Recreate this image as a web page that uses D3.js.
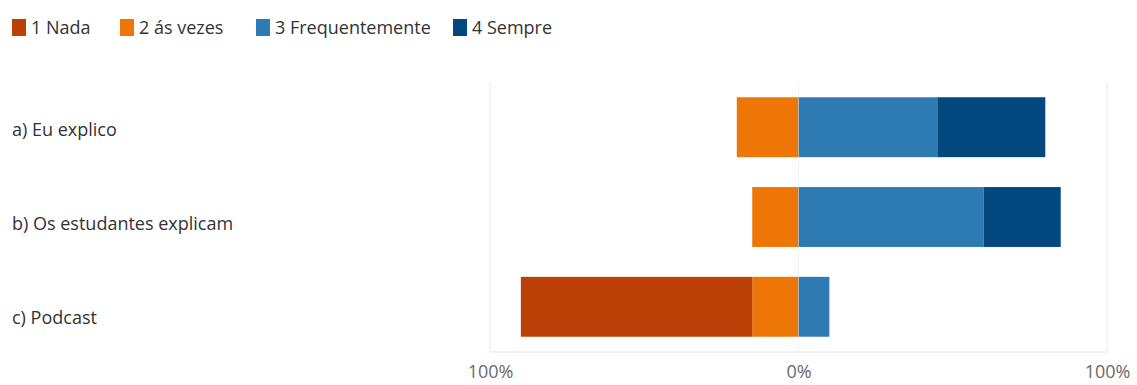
<!DOCTYPE html>
<html>
<head>
<meta charset="utf-8">
<script src="https://cdn.jsdelivr.net/npm/d3@7"></script>
<style>
  html, body { margin: 0; padding: 0; background: #fff; }
  svg { display: block; }
</style>
</head>
<body>
<svg id="chart" width="1137" height="385"></svg>
<script>
// Survey items and the share of answers per level (percent)
const categories = ["a) Eu explico", "b) Os estudantes explicam", "c) Podcast"];
const levels = ["1 Nada", "2 ás vezes", "3 Frequentemente", "4 Sempre"];
const nada = [0, 0, 75];
const asVezes = [20, 15, 15];
const frequentemente = [45, 60, 10];
const sempre = [35, 25, 0];
const tickValues = [-100, 0, 100];
const tickLabels = ["100%", "0%", "100%"];

const colors = ["#BA4006", "#EE7606", "#2E7BB4", "#03477F"];
const font = "'Open Sans', 'Noto Sans', sans-serif";

const svg = d3.select("#chart");
const plot = { left: 490, right: 1107, top: 82, bottom: 352 };

const x = d3.scaleLinear().domain([-100, 100]).range([plot.left, plot.right]);
const y = d3.scaleBand().domain(categories).range([plot.top, plot.bottom])
  .paddingInner(0.333).paddingOuter(0.17);
// Row labels sit on their own slightly wider spacing
const yLabel = d3.scalePoint().domain(categories).range([130, 318]);

// Frame and grid
const g = svg.append("g");
g.selectAll("line.grid").data(tickValues).join("line")
  .attr("class", "grid")
  .attr("x1", d => x(d)).attr("x2", d => x(d))
  .attr("y1", plot.top).attr("y2", plot.bottom)
  .attr("stroke", "#ececec").attr("stroke-width", 1);
g.append("line")
  .attr("x1", plot.left).attr("x2", plot.right)
  .attr("y1", plot.bottom).attr("y2", plot.bottom)
  .attr("stroke", "#e4e4e4");

// Diverging stacks: negative side grows left from zero, positive side right
const series = [nada, asVezes, frequentemente, sempre];
const segs = [];
categories.forEach((c, i) => {
  let neg = 0;
  [1, 0].forEach(k => {
    const v = series[k][i];
    if (v > 0) { segs.push({ c, k, x0: neg - v, x1: neg }); }
    neg -= v;
  });
  let pos = 0;
  [2, 3].forEach(k => {
    const v = series[k][i];
    if (v > 0) { segs.push({ c, k, x0: pos, x1: pos + v }); }
    pos += v;
  });
});

g.selectAll("rect.seg").data(segs).join("rect")
  .attr("class", "seg")
  .attr("x", d => x(d.x0))
  .attr("width", d => x(d.x1) - x(d.x0))
  .attr("y", d => y(d.c))
  .attr("height", y.bandwidth())
  .attr("fill", d => colors[d.k]);

g.append("line")
  .attr("x1", x(0)).attr("x2", x(0))
  .attr("y1", plot.top).attr("y2", plot.bottom)
  .attr("stroke", "#ffffff").attr("stroke-opacity", 0.35);

// Category labels
svg.selectAll("text.cat").data(categories).join("text")
  .attr("class", "cat")
  .attr("x", 12)
  .attr("y", d => yLabel(d))
  .attr("dy", "0.35em")
  .attr("font-family", font)
  .attr("font-size", 18)
  .attr("fill", "#333")
  .text(d => d);

// Bottom axis
const axis = d3.axisBottom(x).tickValues(tickValues)
  .tickFormat((d, i) => tickLabels[i]).tickSize(0).tickPadding(13);
const ax = svg.append("g").attr("transform", `translate(0,${plot.bottom})`).call(axis);
ax.select(".domain").remove();
ax.selectAll("text").attr("font-family", font).attr("font-size", 18).attr("fill", "#6a6a6a");

// Legend
const legendX = [12, 120, 256, 453];
const lg = svg.selectAll("g.leg").data(levels).join("g")
  .attr("class", "leg")
  .attr("transform", (d, i) => `translate(${legendX[i]},19)`);
lg.append("rect").attr("width", 14).attr("height", 17).attr("fill", (d, i) => colors[i]);
lg.append("text").attr("x", 19).attr("y", 9).attr("dy", "0.35em")
  .attr("font-family", font).attr("font-size", 18).attr("fill", "#333")
  .text(d => d);
</script>
</body>
</html>
